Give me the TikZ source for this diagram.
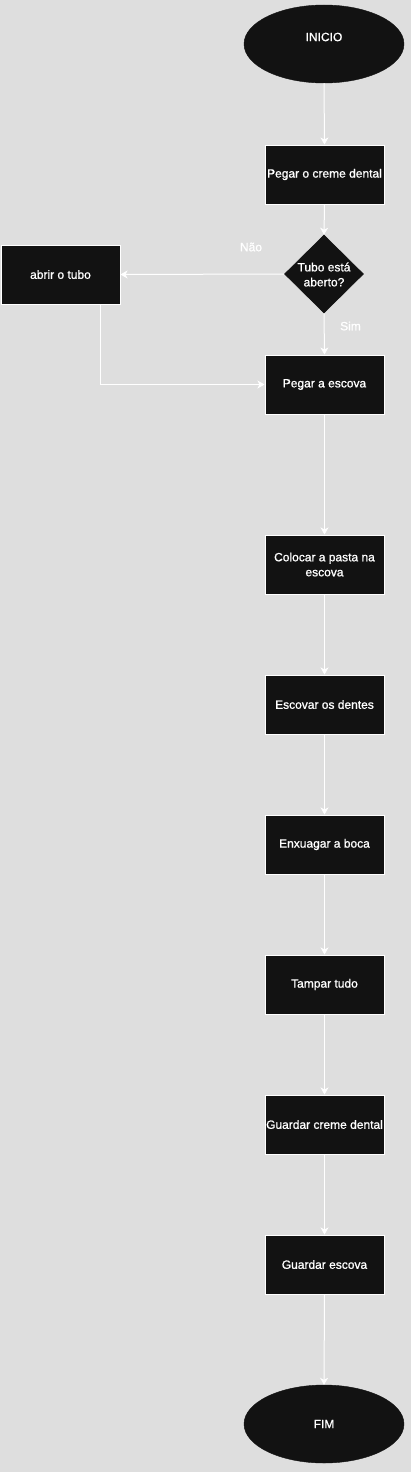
\documentclass[tikz,border=0pt]{standalone}
\usepackage{fontspec}
\setmainfont{Liberation Sans}
\newfontfamily\diagfont[FakeBold=1.0]{Liberation Sans}
\usetikzlibrary{shapes.geometric,arrows.meta}
\definecolor{bg}{RGB}{222,222,222}
\definecolor{boxfill}{RGB}{18,18,18}
\tikzset{
  stepbox/.style={draw=white, line width=1pt, fill=boxfill, minimum width=119pt, minimum height=59pt, inner sep=0pt, text=white, align=center, font=\diagfont\fontsize{12}{15}\selectfont},
  term/.style={ellipse, draw=boxfill, fill=boxfill, minimum width=160pt, minimum height=78pt, inner sep=0pt},
  decision/.style={diamond, draw=boxfill, line width=0.6pt, fill=boxfill, minimum width=79pt, minimum height=78pt, inner sep=0pt},
  txt/.style={text=white, align=center, font=\diagfont\fontsize{12}{15}\selectfont, inner sep=0pt},
  edgelbl/.style={text=white, font=\diagfont\fontsize{12}{15}\selectfont, inner sep=0pt},
  flow/.style={draw=white, line width=1pt, -{Stealth[length=7pt,width=8pt,inset=2pt]}}
}
\begin{document}
\begin{tikzpicture}[x=1pt,y=-1pt]
\fill[bg] (0,0) rectangle (411,1472);
\useasboundingbox (0,0) rectangle (411,1472);

\node[term] (inicio) at (324,44) {};
\node[txt] (inicioT) at (324,37) {INICIO};
\node[stepbox] (creme) at (324.5,174.5) {Pegar o creme dental};
\node[decision] (dec) at (324,274) {};
\node[txt] (decT) at (324,274.5) {Tubo está\\aberto?};
\node[stepbox] (abrir) at (60.5,274.5) {abrir o tubo};
\node[stepbox] (escova) at (324.5,384.5) {Pegar a escova};
\node[stepbox] (pasta) at (324.5,564.5) {Colocar a pasta na\\escova};
\node[stepbox] (dentes) at (324.5,704.5) {Escovar os dentes};
\node[stepbox] (boca) at (324.5,844.5) {Enxuagar a boca};
\node[stepbox] (tampar) at (324.5,984.5) {Tampar tudo};
\node[stepbox] (gcreme) at (324.5,1124.5) {Guardar creme dental};
\node[stepbox] (gescova) at (324.5,1264.5) {Guardar escova};
\node[term] (fim) at (324,1424) {};
\node[txt] (fimT) at (324,1424) {FIM};

\draw[flow] (inicio.south) -- (creme.north);
\draw[flow] (creme.south) -- (dec.north);
\draw[flow] (dec.west) -- (abrir.east);
\node[edgelbl] (nao) at (251,247) {Não};
\draw[flow] (dec.south) -- (escova.north);
\node[edgelbl] (sim) at (350.5,326) {Sim};
\coordinate (abrirOut) at (100,304.5);
\draw[flow] (abrirOut) |- (escova.west);
\draw[flow] (escova.south) -- (pasta.north);
\draw[flow] (pasta.south) -- (dentes.north);
\draw[flow] (dentes.south) -- (boca.north);
\draw[flow] (boca.south) -- (tampar.north);
\draw[flow] (tampar.south) -- (gcreme.north);
\draw[flow] (gcreme.south) -- (gescova.north);
\draw[flow] (gescova.south) -- (fim.north);
\end{tikzpicture}
\end{document}
